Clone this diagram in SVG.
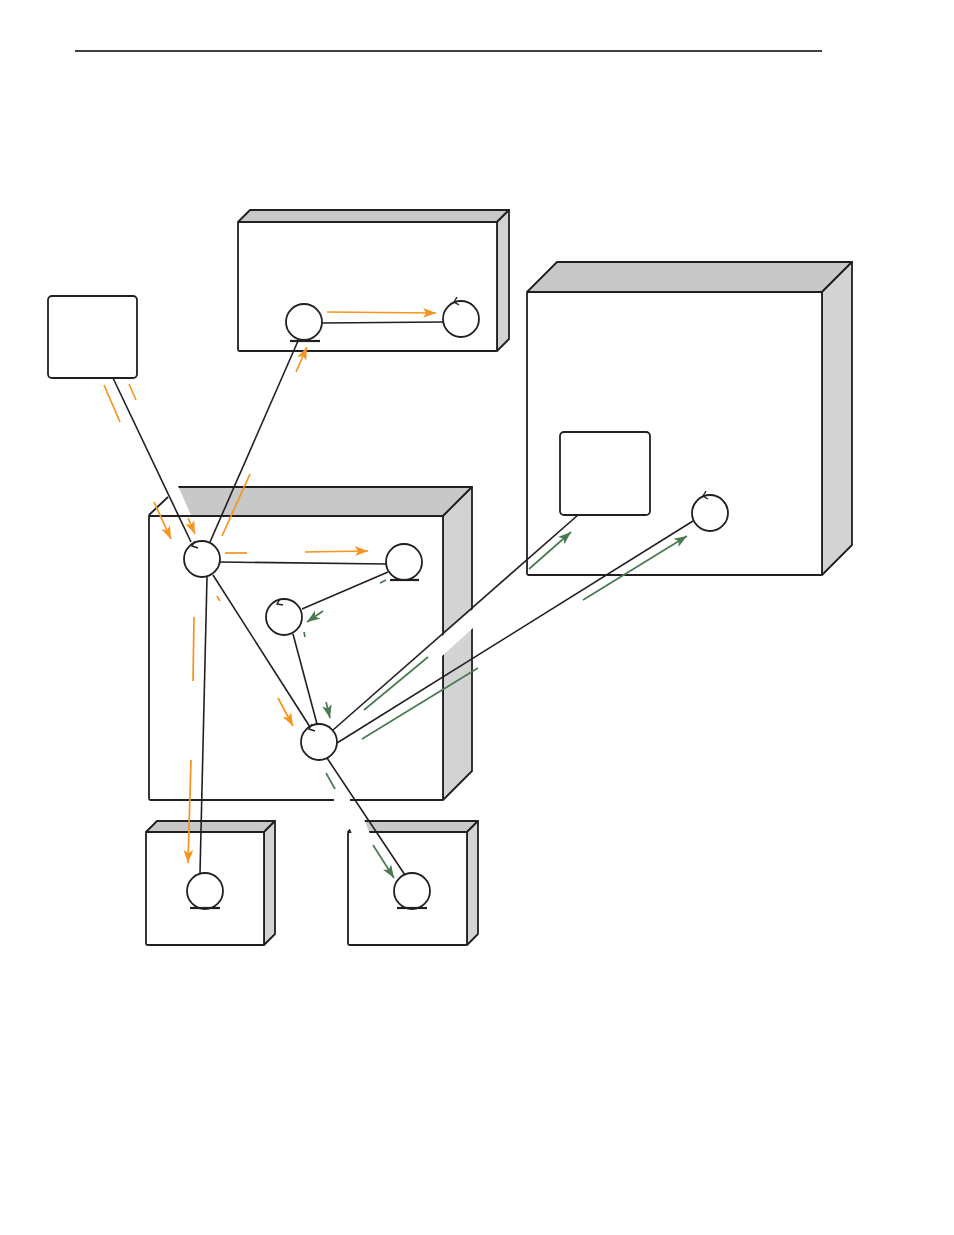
<svg xmlns="http://www.w3.org/2000/svg" width="954" height="1235" viewBox="0 0 954 1235">
<style>
.top{fill:#c8c8c8;stroke:#231f20;stroke-width:1.8;stroke-linejoin:round}
.side{fill:#d3d3d3;stroke:#231f20;stroke-width:1.8;stroke-linejoin:round}
.front{fill:#fff;stroke:#231f20;stroke-width:1.8}
.node{fill:#fff;stroke:#231f20;stroke-width:1.8}
.base{stroke:#231f20;stroke-width:2.2}
.tick{fill:none;stroke:#231f20;stroke-width:1.4}
.edge{stroke:#231f20;stroke-width:1.6;fill:none}
.or{stroke:#f7941d;stroke-width:1.7;fill:none}
.gr{stroke:#4a7a52;stroke-width:1.7;fill:none}
.wh{fill:#fff;stroke:none}
</style>
<defs>
<marker id="ao" viewBox="0 0 12 9" refX="12" refY="4.5" markerWidth="13" markerHeight="10" markerUnits="userSpaceOnUse" orient="auto"><path d="M0,0 L12,4.5 L0,9 L3,4.5 Z" fill="#f7941d"/></marker>
<marker id="ag" viewBox="0 0 12 9" refX="12" refY="4.5" markerWidth="13" markerHeight="10" markerUnits="userSpaceOnUse" orient="auto"><path d="M0,0 L12,4.5 L0,9 L3,4.5 Z" fill="#4a7a52"/></marker>
</defs>
<rect width="954" height="1235" fill="#fff"/>
<line x1="75" y1="51" x2="822" y2="51" stroke="#000" stroke-width="1.4"/>

<g id="boxA">
<polygon class="top" points="238,222 250,210 509,210 497,222"/>
<polygon class="side" points="497,222 509,210 509,339 497,351"/>
<rect class="front" x="238" y="222" width="259" height="129" rx="1.5"/>
</g>
<g id="boxB">
<polygon class="top" points="527,292 557,262 852,262 822,292"/>
<polygon class="side" points="822,292 852,262 852,545 822,575"/>
<rect class="front" x="527" y="292" width="295" height="283" rx="1.5"/>
</g>
<g id="boxC">
<polygon class="top" points="149,516 178,487 472,487 443,516"/>
<polygon class="side" points="443,516 472,487 472,771 443,800"/>
<rect class="front" x="149" y="516" width="294" height="284" rx="1.5"/>
<polygon class="wh" points="150,486 178,486 191,515 150,515"/>
<line x1="149" y1="515" x2="168" y2="497" stroke="#231f20" stroke-width="1.8"/>
<polygon class="wh" points="442,636 473,609 473,628 442,656"/>
<rect class="wh" x="334" y="798" width="16" height="4"/>
</g>
<g id="boxD">
<polygon class="top" points="146,832 157,821 275,821 264,832"/>
<polygon class="side" points="264,832 275,821 275,934 264,945"/>
<rect class="front" x="146" y="832" width="118" height="113" rx="1.5"/>
</g>
<g id="boxE">
<polygon class="top" points="348,832 359,821 478,821 467,832"/>
<polygon class="side" points="467,832 478,821 478,934 467,945"/>
<rect class="front" x="348" y="832" width="119" height="113" rx="1.5"/>
<polygon class="wh" points="347,819 364,819 370,834 352,834 350,829 347,829"/>
</g>
<g id="nodeF"><rect class="node" x="48" y="296" width="89" height="82" rx="4"/></g>
<g id="nodeG"><rect class="node" x="560" y="432" width="90" height="83" rx="4"/></g>

<g id="connectors">
<line class="edge" x1="113" y1="378" x2="191" y2="542"/>
<line class="edge" x1="210" y1="542" x2="298" y2="341"/>
<line class="edge" x1="322" y1="323" x2="443" y2="322"/>
<line class="edge" x1="220" y1="562" x2="386" y2="564"/>
<line class="edge" x1="388" y1="572" x2="302" y2="609"/>
<line class="edge" x1="293" y1="634" x2="317" y2="724"/>
<line class="edge" x1="213" y1="575" x2="310" y2="727"/>
<line class="edge" x1="207" y1="577" x2="200" y2="873"/>
<line class="edge" x1="327" y1="758" x2="405" y2="875"/>
<line class="edge" x1="333" y1="730" x2="578" y2="515"/>
<line class="edge" x1="337" y1="743" x2="693" y2="521"/>

<line class="or" x1="327" y1="312" x2="436" y2="313" marker-end="url(#ao)"/>
<line class="or" x1="296" y1="372" x2="307" y2="347" marker-end="url(#ao)"/>
<line class="or" x1="104" y1="385" x2="120" y2="422"/>
<line class="or" x1="129" y1="384" x2="136" y2="400"/>
<line class="or" x1="154" y1="502" x2="171" y2="539" marker-end="url(#ao)"/>
<line class="or" x1="188" y1="518" x2="195" y2="534" marker-end="url(#ao)"/>
<line class="or" x1="222" y1="536" x2="250" y2="474"/>
<line class="or" x1="225" y1="553" x2="247" y2="553"/>
<line class="or" x1="305" y1="552" x2="368" y2="551" marker-end="url(#ao)"/>
<line class="or" x1="217" y1="596" x2="220" y2="601"/>
<line class="or" x1="194" y1="617" x2="193" y2="681"/>
<line class="or" x1="278" y1="698" x2="293" y2="726" marker-end="url(#ao)"/>
<line class="or" x1="191" y1="760" x2="188" y2="863" marker-end="url(#ao)"/>

<line class="gr" x1="380" y1="583" x2="386" y2="580"/>
<line class="gr" x1="323" y1="611" x2="307" y2="622" marker-end="url(#ag)"/>
<line class="gr" x1="304" y1="632" x2="305" y2="637"/>
<line class="gr" x1="326" y1="702" x2="330" y2="718" marker-end="url(#ag)"/>
<line class="gr" x1="364" y1="710" x2="428" y2="657"/>
<line class="gr" x1="362" y1="739" x2="478" y2="668"/>
<line class="gr" x1="326" y1="773" x2="335" y2="789"/>
<line class="gr" x1="373" y1="845" x2="394" y2="878" marker-end="url(#ag)"/>
<line class="gr" x1="529" y1="569" x2="571" y2="532" marker-end="url(#ag)"/>
<line class="gr" x1="583" y1="600" x2="687" y2="536" marker-end="url(#ag)"/>
</g>

<g id="A1"><circle class="node" cx="304" cy="322" r="18"/><line class="base" x1="290" y1="341" x2="320" y2="341"/></g>
<g id="A2"><circle class="node" cx="461" cy="319" r="18"/><path class="tick" d="M457,297 L454,302 L459,305"/></g>
<g id="C1"><circle class="node" cx="202" cy="559" r="18"/><path class="tick" d="M195,541 L192,546 L198,548"/></g>
<g id="C2"><circle class="node" cx="404" cy="562" r="18"/><line class="base" x1="390" y1="580" x2="419" y2="580"/></g>
<g id="C3"><circle class="node" cx="284" cy="617" r="18"/><path class="tick" d="M280,599 L277,604 L283,605"/></g>
<g id="C4"><circle class="node" cx="319" cy="742" r="18"/><path class="tick" d="M312,724 L309,729 L315,731"/></g>
<g id="B1"><circle class="node" cx="710" cy="513" r="18"/><path class="tick" d="M706,491 L703,496 L708,499"/></g>
<g id="D1"><circle class="node" cx="205" cy="891" r="18"/><line class="base" x1="190" y1="908" x2="220" y2="908"/></g>
<g id="E1"><circle class="node" cx="412" cy="891" r="18"/><line class="base" x1="397" y1="908" x2="427" y2="908"/></g>
</svg>
